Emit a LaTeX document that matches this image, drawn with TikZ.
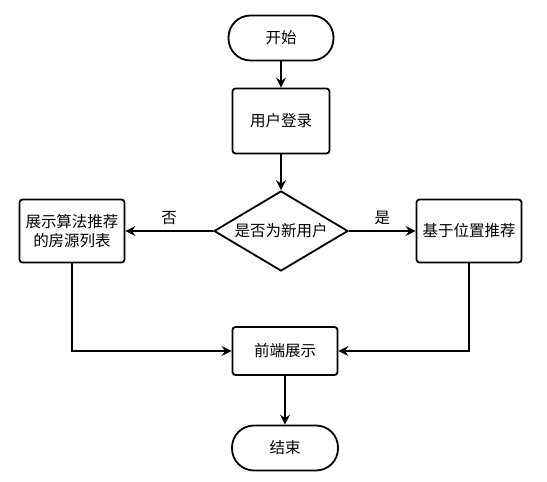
\documentclass[tikz,border=0pt]{standalone}
\usepackage{fontspec}
\setmainfont{Noto Sans CJK SC}
\usetikzlibrary{arrows.meta,positioning,shapes,calc}
\tikzset{
  termbox/.style={draw=black,fill=white,line width=1.8pt,rounded corners=22pt,
                  minimum width=105pt,minimum height=45pt,inner sep=2pt,
                  font=\fontsize{15.5}{17}\selectfont},
  stepbox/.style={draw=black,fill=white,line width=1.8pt,rounded corners=3pt,
                  minimum width=105pt,minimum height=63pt,inner sep=2pt,align=center,
                  font=\fontsize{15.5}{19}\selectfont},
  choice/.style={draw=black,fill=white,line width=1.8pt,diamond,aspect=1.675,
                 minimum width=134pt,minimum height=80pt,inner sep=0pt,
                 font=\fontsize{15.5}{17}\selectfont},
  flowarr/.style={-{Stealth[length=10pt,width=10pt,inset=3.5pt]},line width=1.8pt},
  yesno/.style={font=\fontsize{15.5}{17}\selectfont,above=2pt}
}

\begin{document}
\begin{tikzpicture}[x=1pt,y=-1pt]
      \useasboundingbox (0,0) rectangle (547,482);
      % main column
      \node[termbox] (start) at (281,38) {开始};
      \node[stepbox,minimum width=97pt,minimum height=65pt] (login) at (281,121) {用户登录};
      \node[choice] (newuser) at (281,231) {是否为新用户};
      \node[stepbox] (algo) at (72,231) {展示算法推荐\\的房源列表};
      \node[stepbox] (nearby) at (469,231) {基于位置推荐};
      \node[stepbox,minimum height=48pt] (show) at (285,351) {前端展示};
      \node[termbox,minimum width=106pt] (stop) at (285,448) {结束};

      % connecting arrows
      \draw[flowarr] (start) -- (login);
      \draw[flowarr] (login) -- (newuser);
      \draw[flowarr] (newuser) -- node[yesno] {否} (algo);
      \draw[flowarr] (newuser) -- node[yesno] {是} (nearby);
      \draw[flowarr] (algo.south) |- (show.west);
      \draw[flowarr] (nearby.south) |- (show.east);
      \draw[flowarr] (show) -- (stop);
    \end{tikzpicture}
\end{document}
